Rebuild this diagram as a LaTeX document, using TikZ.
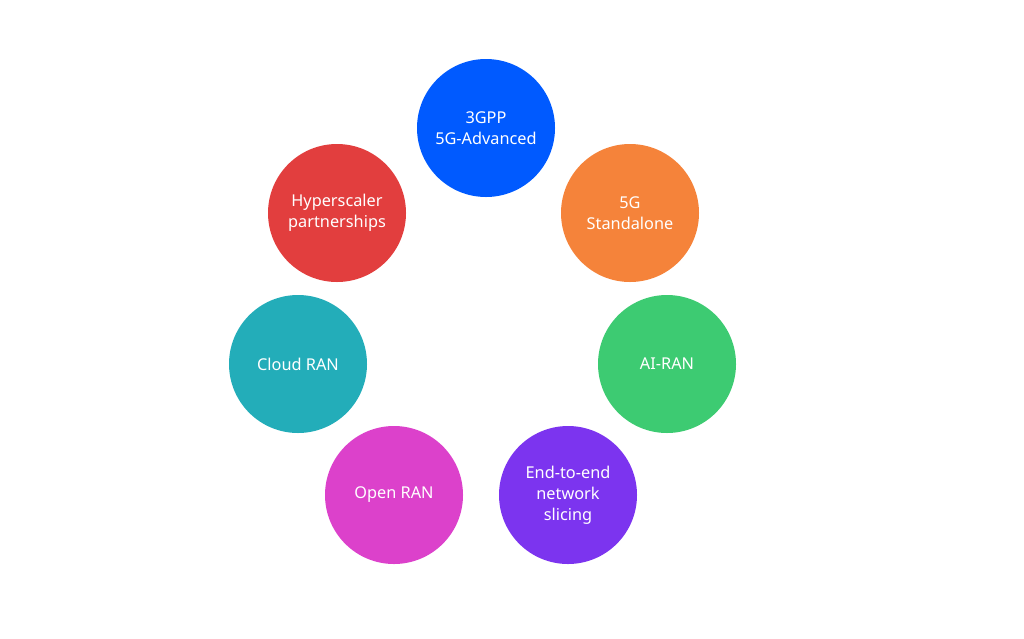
\documentclass[tikz,border=0pt]{standalone}
\usepackage{fontspec}
\setmainfont{Noto Sans}
\usepackage{tikz}
\usetikzlibrary{positioning}

\definecolor{gppblue}{HTML}{005AFF}
\definecolor{saorange}{HTML}{F5833A}
\definecolor{aigreen}{HTML}{3DCB72}
\definecolor{slicepurple}{HTML}{7C34EF}
\definecolor{oranmagenta}{HTML}{DC41CB}
\definecolor{cloudteal}{HTML}{23ADB9}
\definecolor{hypred}{HTML}{E23E3E}

\begin{document}
\begin{tikzpicture}[x=1pt, y=-1pt,
    topic/.style={circle, minimum size=138pt, inner sep=0pt, text=white,
        align=center, font=\fontsize{16.3}{21}\selectfont}]
        \useasboundingbox (0,0) rectangle (1024,638);
        \node[topic, fill=gppblue] (gpp) at (486,128) {3GPP\\5G-Advanced};
        \node[topic, fill=saorange] (sa) at (630,213) {5G\\Standalone};
        \node[topic, fill=aigreen] (airan) at (667,364) {AI-RAN};
        \node[topic, fill=slicepurple] (slicing) at (568,495) {End-to-end\\network\\slicing};
        \node[topic, fill=oranmagenta] (oran) at (394,495) {Open RAN};
        \node[topic, fill=cloudteal] (cloud) at (298,364) {Cloud RAN};
        \node[topic, fill=hypred] (hyper) at (337,213) {Hyperscaler\\partnerships};
\end{tikzpicture}
\end{document}
